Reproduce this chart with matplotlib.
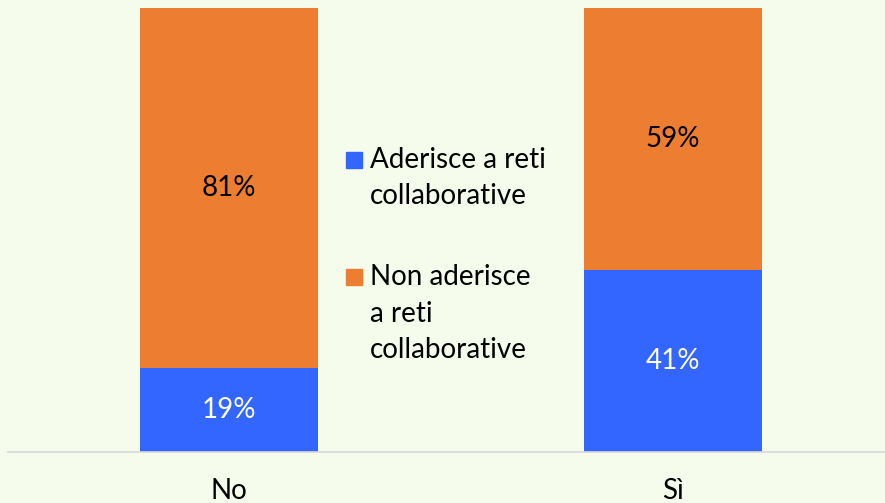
import matplotlib.pyplot as plt
from matplotlib.patches import Rectangle

categories = ['No', 'Sì']
aderisce = [19, 41]
non_aderisce = [81, 59]
series_names = [['Aderisce a reti', 'collaborative'],
                ['Non aderisce', 'a reti', 'collaborative']]

bg = '#F5FCEB'
blue = '#3366FF'
orange = '#ED7D31'
fs = 20

plt.rcParams['font.family'] = ['Lato', 'DejaVu Sans']

fig = plt.figure(figsize=(8.85, 5.03), dpi=100, facecolor=bg)
ax = fig.add_axes([8 / 885, 51 / 503, 877 / 885, 444 / 503])
ax.set_facecolor(bg)

x = list(range(len(categories)))
ax.bar(x, aderisce, width=0.4, color=blue)
ax.bar(x, non_aderisce, width=0.4, bottom=aderisce, color=orange)

for i in x:
    ax.text(i, aderisce[i] / 2, f'{aderisce[i]}%', ha='center', va='center',
            color='white', fontsize=fs)
    ax.text(i, aderisce[i] + non_aderisce[i] / 2, f'{non_aderisce[i]}%',
            ha='center', va='center', color='black', fontsize=fs)

ax.set_xlim(-221 / 444, 1 + 212 / 444)
ax.set_ylim(0, 100)
ax.set_yticks([])
ax.set_xticks(x)
ax.set_xticklabels(categories, fontsize=fs)
ax.tick_params(axis='x', length=0, pad=19)
for s in ['top', 'right', 'left']:
    ax.spines[s].set_visible(False)
ax.spines['bottom'].set_color('#D9D9D9')
ax.spines['bottom'].set_linewidth(1.2)

# legend drawn by hand so the marker sits on the first line
leg_y = [160, 277]
for lines, col, yy in zip(series_names, [blue, orange], leg_y):
    fig.patches.append(Rectangle((346 / 885, (503 - yy - 8) / 503), 16 / 885, 16 / 503,
                                 transform=fig.transFigure, color=col))
    for k, line in enumerate(lines):
        base = yy + 8 + k * 36.5
        fig.text(370 / 885, (503 - base) / 503, line, ha='left', va='baseline',
                 fontsize=fs)

fig.savefig('out.png', dpi=100, facecolor=bg)
